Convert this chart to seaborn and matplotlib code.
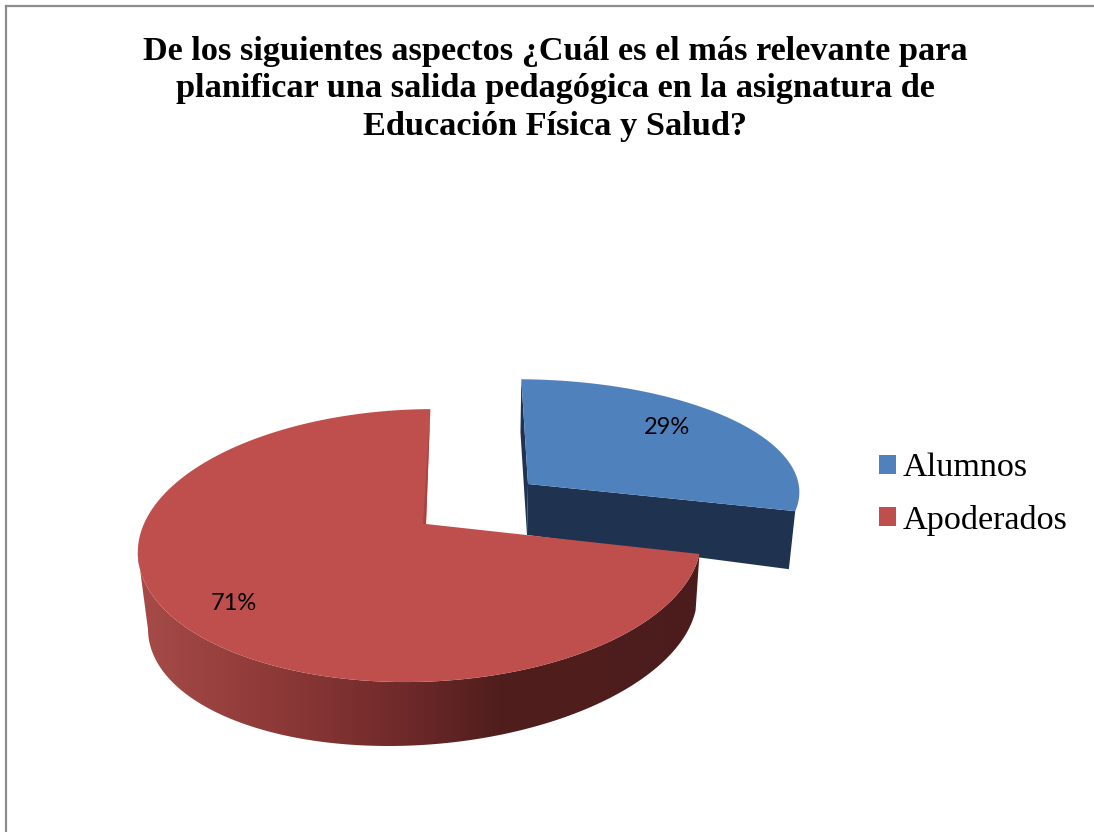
import numpy as np
import matplotlib
matplotlib.use("Agg")
import matplotlib.pyplot as plt
import seaborn as sns
from matplotlib.transforms import Transform
from matplotlib.path import Path
from matplotlib.patches import Polygon
from matplotlib.colors import LinearSegmentedColormap

# ---- data ----
categories = ["Alumnos", "Apoderados"]
values = [29, 71]
percent_labels = ["29%", "71%"]
title_text = ("De los siguientes aspectos ¿Cuál es el más relevante para\n"
              "planificar una salida pedagógica en la asignatura de\n"
              "Educación Física y Salud?")

# ---- style ----
top_colors = sns.color_palette(["#4F81BD", "#BE4F4C"])
blue_wall = "#1F3350"
sliver_red = "#A84341"
border = "#8C8C8C"


class Persp(Transform):
    """Tilted-disc projection of the unit pie into figure pixels."""
    input_dims = output_dims = 2
    is_separable = False
    has_inverse = False

    def __init__(self, ax0, ay0, a, b, k, e, g, h, scale=1.0):
        super().__init__()
        self.p = (ax0, ay0, a, b, k, e, g, h, scale)

    def transform_non_affine(self, v):
        ax0, ay0, a, b, k, e, g, h, s = self.p
        v = np.asarray(v, float)
        x, y = v[:, 0], v[:, 1]
        w = 1 + g * y + h * x
        return np.column_stack([ax0 + s * (a * x + b * y) / w,
                                ay0 + s * (-k * y + e * x) / w])

    def transform_path_non_affine(self, path):
        pts = []
        for seg, code in path.iter_bezier():
            if code == Path.MOVETO:
                pts.append(np.asarray(seg.control_points))
            else:
                pts.append(seg(np.linspace(0, 1, 25))[1:])
        return Path(self.transform_non_affine(np.vstack(pts)))


RED = dict(a=278, b=5, k=133, e=-3.8, g=0.1575, h=0.02)
RED_LOW = dict(RED, e=-14.0)
BLUE = dict(a=276, b=-7, k=110, e=0.0, g=0.05, h=0.02)
BLUE_LOW = dict(BLUE, e=8.0)
red_top = Persp(426, 524, **RED)
red_low = Persp(429, 591, scale=0.975, **RED_LOW)
blue_top = Persp(528, 484, **BLUE)
blue_low = Persp(527, 535, scale=0.98, **BLUE_LOW)

sns.set_theme(style="white")
plt.rcParams["font.family"] = ["Liberation Serif", "DejaVu Sans"]

fig = plt.figure(figsize=(10.94, 8.32), dpi=100, facecolor="white")
ax = fig.add_axes([6 / 1094, 0, 1 - 6 / 1094, 1 - 6 / 832])

wedges, _, autotexts = ax.pie(values, colors=top_colors, startangle=90,
                              counterclock=False, autopct="%.0f%%",
                              wedgeprops=dict(linewidth=0), frame=True)
blue_wedge, red_wedge = wedges
blue_wedge.set_transform(blue_top + ax.transData)
red_wedge.set_transform(red_top + ax.transData)
blue_wedge.set_zorder(2)
red_wedge.set_zorder(4)


def ring(theta):
    t = np.radians(theta)
    return np.column_stack([np.cos(t), np.sin(t)])


# blue cut faces (flat dark), derived from the wedge's own angles
b1, b2 = blue_wedge.theta1, blue_wedge.theta2
edge = ring(np.array([b1, b2]))
origin = np.zeros((1, 2))
right_face = np.vstack([blue_top.transform(origin), blue_top.transform(edge[:1]),
                        blue_low.transform(edge[:1]), blue_low.transform(origin)])
back_face = np.vstack([blue_top.transform(edge[1:]), blue_low.transform(edge[1:]),
                       blue_low.transform(origin), blue_top.transform(origin)])
ax.fill(right_face[:, 0], right_face[:, 1], color=blue_wall, lw=0, zorder=1.5)
ax.fill(back_face[:, 0], back_face[:, 1], color=blue_wall, lw=0, zorder=1.5)

# red outer wall with smooth horizontal shading, clipped to the wall outline:
# each arc runs from the wedge's end to its own leftmost point
r_end = red_wedge.theta2
theta = np.linspace(r_end, r_end - 240, 500)
upper = red_top.transform(ring(theta))
lower = red_low.transform(ring(theta))
upper = upper[:np.argmin(upper[:, 0]) + 1]
lower = lower[:np.argmin(lower[:, 0]) + 1]
shade_x = np.array([130, 300, 400, 500, 720])
shade_cols = ["#A84C49", "#883635", "#702A2A", "#501E1D", "#4C1C1C"]
shade_cmap = LinearSegmentedColormap.from_list(
    "wall", list(zip((shade_x - shade_x[0]) / (shade_x[-1] - shade_x[0]), shade_cols)))
grad = ax.imshow(np.linspace(0, 1, 590)[None, :], cmap=shade_cmap, aspect="auto",
                 extent=(shade_x[0], shade_x[-1], 760, 530), zorder=3,
                 interpolation="bilinear")
outline = Polygon(np.vstack([upper, lower[::-1]]), closed=True,
                  transform=ax.transData, facecolor="none", edgecolor="none")
ax.add_patch(outline)
grad.set_clip_path(outline)

# thin visible face next to the red wedge's back cut
tip = red_top.transform(ring(np.array([90.0])))
apex = red_top.transform(origin)
sl = np.vstack([tip, apex, apex + [-3, 0]])
ax.fill(sl[:, 0], sl[:, 1], color=sliver_red, lw=0, zorder=4.5)

# axes frame
ax.set_aspect("auto")
ax.set_xlim(6, 1094)
ax.set_ylim(832, 6)
ax.set_xticks([])
ax.set_yticks([])
sns.despine(ax=ax, top=False, left=False, right=True, bottom=True)
for side in ("top", "left"):
    ax.spines[side].set_color(border)
    ax.spines[side].set_linewidth(1.6)

# percent labels
for txt, label, pos in zip(autotexts, percent_labels, [(667, 428), (234, 604)]):
    txt.set_transform(ax.transData)
    txt.set_position(pos)
    txt.set_text(label)
    txt.set_fontfamily(["Lato", "DejaVu Sans"])
    txt.set_fontsize(17)
    txt.set_color("black")
    txt.set_ha("center")
    txt.set_va("center")
    txt.set_zorder(10)

ax.set_title(title_text, x=(555 - 6) / 1088, y=1 - (44 - 6) / 826, va="top",
             fontsize=24.7, fontweight="bold", color="black", linespacing=1.275,
             fontfamily=["Liberation Serif", "DejaVu Sans"])

leg = ax.legend(wedges, categories, loc="upper left", frameon=False,
                bbox_to_anchor=(855, 429), bbox_transform=ax.transData,
                fontsize=24.6, handlelength=0.5, handleheight=0.5,
                handletextpad=0.2, labelspacing=0.62, borderpad=0.2,
                labelcolor="black")
for t in leg.get_texts():
    t.set_fontfamily(["Liberation Serif", "DejaVu Sans"])

fig.savefig("out.png", dpi=100, facecolor="white")
